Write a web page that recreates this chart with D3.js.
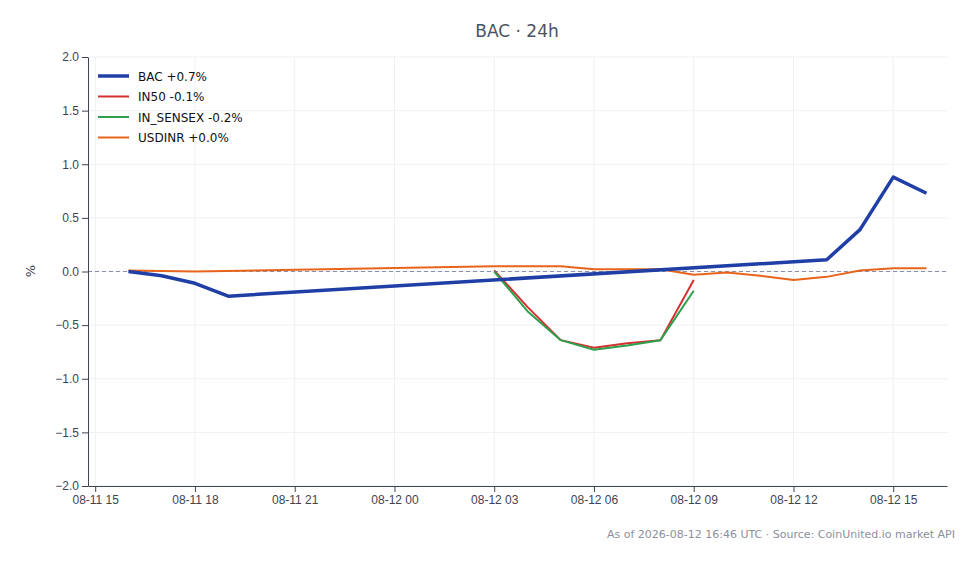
<!DOCTYPE html><html><head><meta charset="utf-8">
<script src="https://cdn.jsdelivr.net/npm/d3@7"></script>
<style>body{margin:0;background:#fff;font-family:"DejaVu Sans",sans-serif}</style></head><body>
<svg id="c" width="979" height="564"></svg>
<script>
const bacTimes=["2026-08-11T16","2026-08-11T17","2026-08-11T18","2026-08-11T19","2026-08-12T13","2026-08-12T14","2026-08-12T15","2026-08-12T16"];
const bacVals=[0.0,-0.04,-0.11,-0.23,0.11,0.39,0.88,0.73];
const in50Times=["2026-08-12T03","2026-08-12T04","2026-08-12T05","2026-08-12T06","2026-08-12T07","2026-08-12T08","2026-08-12T09"];
const in50Vals=[0.01,-0.33,-0.64,-0.71,-0.67,-0.64,-0.08];
const sensexVals=[0.0,-0.37,-0.64,-0.73,-0.69,-0.64,-0.18];
const usdTimes=["2026-08-11T16","2026-08-11T18","2026-08-12T03","2026-08-12T05","2026-08-12T06","2026-08-12T08","2026-08-12T09","2026-08-12T10","2026-08-12T11","2026-08-12T12","2026-08-12T13","2026-08-12T14","2026-08-12T15","2026-08-12T16"];
const usdVals=[0.01,0.0,0.05,0.05,0.02,0.02,-0.03,-0.01,-0.04,-0.08,-0.05,0.01,0.03,0.03];
const yTicks=[-2,-1.5,-1,-0.5,0,0.5,1,1.5,2];
const seriesNames=["BAC +0.7%","IN50 -0.1%","IN_SENSEX -0.2%","USDINR +0.0%"];
const colors=["#1f3fa6","#d62f2f","#2ca04c","#e8641c"];

const p=s=>new Date(s+":00:00");
const svg=d3.select("#c");
const L=88,R=947,T=57,B=486;
const x=d3.scaleTime().domain([p("2026-08-11T14").getTime()+47*60000, p("2026-08-12T16").getTime()+37*60000]).range([L,R]);
const y=d3.scaleLinear().domain([-2,2]).range([B,T]);
const xt=d3.timeHour.every(3).range(p("2026-08-11T15"),p("2026-08-12T16"));
const g=svg.append("g");
g.selectAll(".vg").data(xt).join("line").attr("x1",d=>x(d)).attr("x2",d=>x(d)).attr("y1",T).attr("y2",B).attr("stroke","#eef0f3");
g.selectAll(".hg").data(yTicks).join("line").attr("x1",L).attr("x2",R).attr("y1",d=>y(d)).attr("y2",d=>y(d)).attr("stroke","#eef0f3");
svg.append("line").attr("x1",L).attr("x2",R).attr("y1",y(0)).attr("y2",y(0)).attr("stroke","#8890a8").attr("stroke-dasharray","4,3");
const xa=svg.append("g").attr("transform",`translate(0,${B})`).call(d3.axisBottom(x).tickValues(xt).tickFormat(d3.timeFormat("%m-%d %H")).tickSizeOuter(0));
const ya=svg.append("g").attr("transform",`translate(${L},0)`).call(d3.axisLeft(y).tickValues(yTicks).tickFormat(d3.format(".1f")).tickSizeOuter(0));
[xa,ya].forEach(a=>{a.selectAll("text").attr("fill","#3d4452").style("font-size","12px");a.selectAll("line,path").attr("stroke","#3d4452");});
ya.selectAll("text").text(d=>d<0?"−"+Math.abs(d).toFixed(1):d.toFixed(1));
const line=d3.line().x(d=>x(d[0])).y(d=>y(d[1]));
const mk=(t,v)=>t.map((s,i)=>[p(s),v[i]]);
const data=[[mk(bacTimes,bacVals),3.5],[mk(in50Times,in50Vals),2],[mk(in50Times,sensexVals),2],[mk(usdTimes,usdVals),2]];
[3,1,2,0].forEach(i=>svg.append("path").datum(data[i][0]).attr("d",line).attr("fill","none").attr("stroke",colors[i]).attr("stroke-width",data[i][1]).attr("stroke-linejoin","round"));
seriesNames.forEach((n,i)=>{const yy=76+i*20.5;
svg.append("line").attr("x1",98).attr("x2",129).attr("y1",yy).attr("y2",yy).attr("stroke",colors[i]).attr("stroke-width",i?2:3.5);
svg.append("text").attr("x",138).attr("y",yy+4.5).text(n).style("font-size","12px").attr("fill","#111");});
svg.append("text").attr("x",517).attr("y",37).attr("text-anchor","middle").text("BAC · 24h").style("font-size","17px").attr("fill","#4a5266");
svg.append("text").attr("transform","translate(35,271) rotate(-90)").attr("text-anchor","middle").text("%").style("font-size","13px").attr("fill","#3d4452");
svg.append("text").attr("x",955).attr("y",538).attr("text-anchor","end").text("As of 2026-08-12 16:46 UTC · Source: CoinUnited.io market API").style("font-size","11px").attr("fill","#8a909c");
</script></body></html>
